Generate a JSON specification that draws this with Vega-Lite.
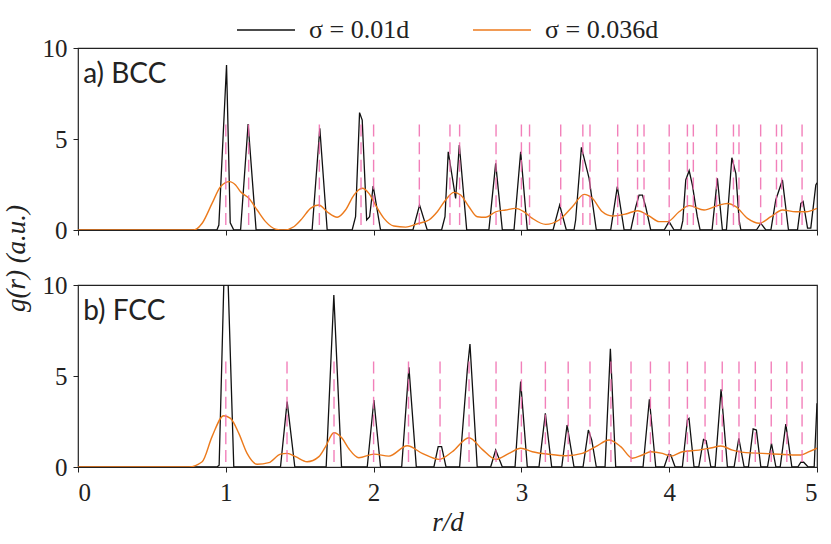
{
  "$schema": "https://vega.github.io/schema/vega-lite/v6.json",
  "background": "white",
  "padding": {"left": 1, "top": 0, "right": 5, "bottom": 5},
  "datasets": {
    "bcc": [
      {"r": 0, "g": 0}, {"r": 0.94, "g": 0}, {"r": 0.953, "g": 0.27}, {"r": 1.005, "g": 9.07}, {"r": 1.03, "g": 0.4}, {"r": 1.054, "g": 0},
      {"r": 1.10, "g": 0}, {"r": 1.151, "g": 5.82}, {"r": 1.205, "g": 0},
      {"r": 1.584, "g": 0}, {"r": 1.636, "g": 5.59}, {"r": 1.686, "g": 0},
      {"r": 1.855, "g": 0}, {"r": 1.878, "g": 0.73}, {"r": 1.905, "g": 6.45}, {"r": 1.923, "g": 6.04}, {"r": 1.953, "g": 0.55}, {"r": 1.973, "g": 0.73}, {"r": 1.997, "g": 2.42}, {"r": 2.047, "g": 0},
      {"r": 2.266, "g": 0}, {"r": 2.311, "g": 1.37}, {"r": 2.363, "g": 0},
      {"r": 2.46, "g": 0}, {"r": 2.483, "g": 0.73}, {"r": 2.505, "g": 4.3}, {"r": 2.555, "g": 1.74}, {"r": 2.58, "g": 4.67}, {"r": 2.63, "g": 0},
      {"r": 2.78, "g": 0}, {"r": 2.826, "g": 3.66}, {"r": 2.871, "g": 0},
      {"r": 2.95, "g": 0}, {"r": 2.995, "g": 4.3}, {"r": 3.04, "g": 0},
      {"r": 3.214, "g": 0}, {"r": 3.259, "g": 1.37}, {"r": 3.304, "g": 0},
      {"r": 3.356, "g": 0}, {"r": 3.367, "g": 0.55}, {"r": 3.406, "g": 4.54}, {"r": 3.458, "g": 2.84}, {"r": 3.507, "g": 0},
      {"r": 3.604, "g": 0}, {"r": 3.649, "g": 2.38}, {"r": 3.695, "g": 0},
      {"r": 3.74, "g": 0}, {"r": 3.774, "g": 1.28}, {"r": 3.796, "g": 1.92}, {"r": 3.819, "g": 1.92}, {"r": 3.841, "g": 1.28}, {"r": 3.875, "g": 0},
      {"r": 3.966, "g": 0}, {"r": 3.999, "g": 0.46}, {"r": 4.033, "g": 0},
      {"r": 4.078, "g": 0}, {"r": 4.092, "g": 0.5}, {"r": 4.112, "g": 2.75}, {"r": 4.135, "g": 3.26}, {"r": 4.157, "g": 2.47}, {"r": 4.19, "g": 0.73}, {"r": 4.209, "g": 0},
      {"r": 4.29, "g": 0}, {"r": 4.326, "g": 2.84}, {"r": 4.36, "g": 0},
      {"r": 4.387, "g": 0}, {"r": 4.424, "g": 3.97}, {"r": 4.451, "g": 3.1}, {"r": 4.473, "g": 0.55}, {"r": 4.485, "g": 0},
      {"r": 4.59, "g": 0}, {"r": 4.62, "g": 0.37}, {"r": 4.654, "g": 0},
      {"r": 4.688, "g": 0}, {"r": 4.721, "g": 1.65}, {"r": 4.766, "g": 2.75}, {"r": 4.807, "g": 0},
      {"r": 4.868, "g": 0}, {"r": 4.891, "g": 1.46}, {"r": 4.906, "g": 1.57}, {"r": 4.936, "g": 0.1}, {"r": 4.958, "g": 0.1}, {"r": 4.992, "g": 2.47}, {"r": 5.0, "g": 2.6}
    ],
    "bccWide": [
      {"r": 0, "g": 0}, {"r": 0.783, "g": 0}, {"r": 0.84, "g": 0.37}, {"r": 0.907, "g": 1.46}, {"r": 0.964, "g": 2.38}, {"r": 1.025, "g": 2.66},
      {"r": 1.066, "g": 2.47}, {"r": 1.1, "g": 2.1}, {"r": 1.156, "g": 1.74}, {"r": 1.212, "g": 1.1}, {"r": 1.269, "g": 0.46}, {"r": 1.336, "g": 0.05},
      {"r": 1.393, "g": 0.0}, {"r": 1.46, "g": 0.18}, {"r": 1.517, "g": 0.64}, {"r": 1.573, "g": 1.19}, {"r": 1.63, "g": 1.37}, {"r": 1.686, "g": 1.0},
      {"r": 1.754, "g": 0.7}, {"r": 1.81, "g": 1.1}, {"r": 1.867, "g": 1.92}, {"r": 1.923, "g": 2.29}, {"r": 1.968, "g": 2.01}, {"r": 2.013, "g": 1.37},
      {"r": 2.07, "g": 0.64}, {"r": 2.137, "g": 0.22}, {"r": 2.217, "g": 0.16}, {"r": 2.307, "g": 0.37}, {"r": 2.374, "g": 0.55}, {"r": 2.431, "g": 1.0},
      {"r": 2.487, "g": 1.65}, {"r": 2.544, "g": 2.07}, {"r": 2.589, "g": 1.92}, {"r": 2.645, "g": 1.28}, {"r": 2.702, "g": 0.73}, {"r": 2.758, "g": 0.7},
      {"r": 2.826, "g": 1.0}, {"r": 2.894, "g": 1.1}, {"r": 2.961, "g": 1.19}, {"r": 3.018, "g": 1.0}, {"r": 3.074, "g": 0.64}, {"r": 3.164, "g": 0.31},
      {"r": 3.255, "g": 0.55}, {"r": 3.345, "g": 1.28}, {"r": 3.424, "g": 1.96}, {"r": 3.48, "g": 1.74}, {"r": 3.548, "g": 1.0}, {"r": 3.615, "g": 0.77},
      {"r": 3.706, "g": 0.88}, {"r": 3.785, "g": 1.06}, {"r": 3.864, "g": 0.77}, {"r": 3.932, "g": 0.46}, {"r": 3.988, "g": 0.46}, {"r": 4.067, "g": 1.0},
      {"r": 4.135, "g": 1.34}, {"r": 4.236, "g": 1.1}, {"r": 4.326, "g": 1.34}, {"r": 4.394, "g": 1.46}, {"r": 4.451, "g": 1.28}, {"r": 4.53, "g": 0.64},
      {"r": 4.609, "g": 0.37}, {"r": 4.688, "g": 0.73}, {"r": 4.766, "g": 1.1}, {"r": 4.857, "g": 1.0}, {"r": 4.925, "g": 1.0}, {"r": 5.0, "g": 1.19}
    ],
    "fcc": [
      {"r": 0, "g": 0}, {"r": 0.94, "g": 0}, {"r": 0.955, "g": 0.1}, {"r": 1.0, "g": 14.3}, {"r": 1.054, "g": 0},
      {"r": 1.37, "g": 0}, {"r": 1.415, "g": 3.59}, {"r": 1.467, "g": 0},
      {"r": 1.679, "g": 0}, {"r": 1.731, "g": 9.45}, {"r": 1.783, "g": 0},
      {"r": 1.957, "g": 0}, {"r": 2.002, "g": 3.68}, {"r": 2.047, "g": 0},
      {"r": 2.19, "g": 0}, {"r": 2.239, "g": 5.48}, {"r": 2.289, "g": 0},
      {"r": 2.408, "g": 0}, {"r": 2.437, "g": 1.12}, {"r": 2.46, "g": 1.12}, {"r": 2.49, "g": 0},
      {"r": 2.582, "g": 0}, {"r": 2.634, "g": 5.33}, {"r": 2.652, "g": 6.76}, {"r": 2.701, "g": 0},
      {"r": 2.792, "g": 0}, {"r": 2.826, "g": 0.93}, {"r": 2.871, "g": 0},
      {"r": 2.957, "g": 0}, {"r": 2.995, "g": 4.69}, {"r": 3.04, "g": 0},
      {"r": 3.119, "g": 0}, {"r": 3.162, "g": 2.95}, {"r": 3.205, "g": 0},
      {"r": 3.273, "g": 0}, {"r": 3.309, "g": 2.31}, {"r": 3.356, "g": 0},
      {"r": 3.417, "g": 0}, {"r": 3.453, "g": 2.03}, {"r": 3.476, "g": 1.48}, {"r": 3.507, "g": 0},
      {"r": 3.566, "g": 0}, {"r": 3.602, "g": 6.5}, {"r": 3.638, "g": 0},
      {"r": 3.823, "g": 0}, {"r": 3.866, "g": 3.72}, {"r": 3.909, "g": 0},
      {"r": 3.966, "g": 0}, {"r": 3.995, "g": 0.7}, {"r": 4.011, "g": 0.66}, {"r": 4.04, "g": 0},
      {"r": 4.089, "g": 0}, {"r": 4.123, "g": 2.58}, {"r": 4.134, "g": 2.67}, {"r": 4.168, "g": 0},
      {"r": 4.2, "g": 0}, {"r": 4.232, "g": 1.52}, {"r": 4.25, "g": 1.45}, {"r": 4.282, "g": 0},
      {"r": 4.311, "g": 0}, {"r": 4.351, "g": 4.27}, {"r": 4.394, "g": 0},
      {"r": 4.439, "g": 0}, {"r": 4.471, "g": 1.58}, {"r": 4.507, "g": 0},
      {"r": 4.536, "g": 0}, {"r": 4.568, "g": 2.09}, {"r": 4.59, "g": 2.03}, {"r": 4.62, "g": 0},
      {"r": 4.665, "g": 0}, {"r": 4.692, "g": 1.3}, {"r": 4.722, "g": 0},
      {"r": 4.751, "g": 0}, {"r": 4.789, "g": 2.36}, {"r": 4.83, "g": 0},
      {"r": 4.87, "g": 0}, {"r": 4.891, "g": 0.26}, {"r": 4.91, "g": 0.26}, {"r": 4.94, "g": 0},
      {"r": 4.981, "g": 0}, {"r": 5.0, "g": 3.5}
    ],
    "fccWide": [
      {"r": 0, "g": 0}, {"r": 0.75, "g": 0}, {"r": 0.84, "g": 0.29}, {"r": 0.907, "g": 1.67}, {"r": 0.986, "g": 2.82}, {"r": 1.032, "g": 2.67},
      {"r": 1.088, "g": 1.85}, {"r": 1.144, "g": 0.75}, {"r": 1.212, "g": 0.15}, {"r": 1.291, "g": 0.24}, {"r": 1.37, "g": 0.71}, {"r": 1.415, "g": 0.75},
      {"r": 1.472, "g": 0.57}, {"r": 1.55, "g": 0.29}, {"r": 1.63, "g": 0.57}, {"r": 1.675, "g": 1.12}, {"r": 1.731, "g": 1.88}, {"r": 1.787, "g": 1.58},
      {"r": 1.833, "g": 1.0}, {"r": 1.9, "g": 0.51}, {"r": 2.002, "g": 0.71}, {"r": 2.104, "g": 0.6}, {"r": 2.228, "g": 1.17}, {"r": 2.329, "g": 0.75},
      {"r": 2.442, "g": 0.42}, {"r": 2.532, "g": 0.84}, {"r": 2.645, "g": 1.61}, {"r": 2.735, "g": 0.97}, {"r": 2.826, "g": 0.42}, {"r": 2.916, "g": 0.75},
      {"r": 2.995, "g": 1.03}, {"r": 3.074, "g": 0.84}, {"r": 3.187, "g": 0.7}, {"r": 3.3, "g": 0.62}, {"r": 3.412, "g": 0.75}, {"r": 3.503, "g": 1.12},
      {"r": 3.593, "g": 1.48}, {"r": 3.672, "g": 1.12}, {"r": 3.751, "g": 0.48}, {"r": 3.818, "g": 0.66}, {"r": 3.875, "g": 0.84}, {"r": 3.954, "g": 0.75},
      {"r": 4.011, "g": 0.6}, {"r": 4.089, "g": 0.84}, {"r": 4.2, "g": 0.93}, {"r": 4.29, "g": 1.06}, {"r": 4.349, "g": 1.15}, {"r": 4.428, "g": 0.93},
      {"r": 4.519, "g": 0.79}, {"r": 4.631, "g": 0.75}, {"r": 4.744, "g": 0.7}, {"r": 4.834, "g": 0.66}, {"r": 4.891, "g": 0.66}, {"r": 4.947, "g": 0.84},
      {"r": 5.0, "g": 1.03}
    ],
    "bccShells": [
      {"r": 1}, {"r": 1.1547}, {"r": 1.633}, {"r": 1.9149}, {"r": 2}, {"r": 2.3094}, {"r": 2.5166}, {"r": 2.582}, {"r": 2.8284},
      {"r": 3}, {"r": 3.0551}, {"r": 3.266}, {"r": 3.4157}, {"r": 3.4641}, {"r": 3.6515}, {"r": 3.7859}, {"r": 3.8297}, {"r": 4},
      {"r": 4.1231}, {"r": 4.1633}, {"r": 4.3205}, {"r": 4.4347}, {"r": 4.4721}, {"r": 4.6188}, {"r": 4.7258}, {"r": 4.761}, {"r": 4.899}
    ],
    "fccShells": [
      {"r": 1}, {"r": 1.4142}, {"r": 1.7321}, {"r": 2}, {"r": 2.2361}, {"r": 2.4495}, {"r": 2.6458}, {"r": 2.8284}, {"r": 3},
      {"r": 3.1623}, {"r": 3.3166}, {"r": 3.4641}, {"r": 3.6056}, {"r": 3.7417}, {"r": 3.873}, {"r": 4}, {"r": 4.1231}, {"r": 4.2426},
      {"r": 4.3589}, {"r": 4.4721}, {"r": 4.5826}, {"r": 4.6904}, {"r": 4.7958}, {"r": 4.899}
    ],
    "bccLabel": [{"label": "a) BCC"}],
    "fccLabel": [{"label": "b) FCC"}]
  },
  "bounds": "flush",
  "spacing": 55,
  "vconcat": [
    {
      "width": 739,
      "height": 182,
      "layer": [
        {
          "data": {"name": "bcc"},
          "transform": [{"calculate": "'σ = 0.01d'", "as": "sigma"}],
          "mark": {"type": "line", "strokeWidth": 1.3, "clip": true},
          "encoding": {
            "x": {"field": "r", "type": "quantitative", "scale": {"domain": [0, 5]},
                  "axis": {"values": [0, 1, 2, 3, 4, 5], "labels": false, "title": null}},
            "y": {"field": "g", "type": "quantitative", "scale": {"domain": [0, 10]},
                  "axis": {"values": [0, 5, 10], "title": "g(r) (a.u.)", "titleY": 210, "titleX": -48}},
            "color": {"field": "sigma", "type": "nominal"}
          }
        },
        {
          "data": {"name": "bccWide"},
          "transform": [{"calculate": "'σ = 0.036d'", "as": "sigma"}],
          "mark": {"type": "line", "strokeWidth": 1.4, "interpolate": "monotone", "clip": true},
          "encoding": {
            "x": {"field": "r", "type": "quantitative"},
            "y": {"field": "g", "type": "quantitative"},
            "color": {"field": "sigma", "type": "nominal"}
          }
        },
        {
          "data": {"name": "bccShells"},
          "mark": {"type": "rule", "color": "#f06aae", "opacity": 0.85, "strokeWidth": 1.4, "strokeDash": [12, 5.7]},
          "encoding": {
            "x": {"field": "r", "type": "quantitative"},
            "y": {"datum": 5.8},
            "y2": {"datum": 0}
          }
        },
        {
          "data": {"name": "bccLabel"},
          "mark": {"type": "text", "align": "left", "baseline": "middle", "font": "Lato", "fontSize": 28, "color": "#222"},
          "encoding": {
            "x": {"datum": 0.035},
            "y": {"datum": 8.5},
            "text": {"field": "label"}
          }
        }
      ]
    },
    {
      "width": 739,
      "height": 182,
      "layer": [
        {
          "data": {"name": "fcc"},
          "transform": [{"calculate": "'σ = 0.01d'", "as": "sigma"}],
          "mark": {"type": "line", "strokeWidth": 1.3, "clip": true},
          "encoding": {
            "x": {"field": "r", "type": "quantitative", "scale": {"domain": [0, 5]},
                  "axis": {"values": [0, 1, 2, 3, 4, 5], "format": "d", "title": "r/d"}},
            "y": {"field": "g", "type": "quantitative", "scale": {"domain": [0, 10]},
                  "axis": {"values": [0, 5, 10], "title": null}},
            "color": {"field": "sigma", "type": "nominal"}
          }
        },
        {
          "data": {"name": "fccWide"},
          "transform": [{"calculate": "'σ = 0.036d'", "as": "sigma"}],
          "mark": {"type": "line", "strokeWidth": 1.4, "interpolate": "monotone", "clip": true},
          "encoding": {
            "x": {"field": "r", "type": "quantitative"},
            "y": {"field": "g", "type": "quantitative"},
            "color": {"field": "sigma", "type": "nominal"}
          }
        },
        {
          "data": {"name": "fccShells"},
          "mark": {"type": "rule", "color": "#f06aae", "opacity": 0.85, "strokeWidth": 1.4, "strokeDash": [12, 5.7]},
          "encoding": {
            "x": {"field": "r", "type": "quantitative"},
            "y": {"datum": 5.8},
            "y2": {"datum": 0}
          }
        },
        {
          "data": {"name": "fccLabel"},
          "mark": {"type": "text", "align": "left", "baseline": "middle", "font": "Lato", "fontSize": 28, "color": "#222"},
          "encoding": {
            "x": {"datum": 0.035},
            "y": {"datum": 8.5},
            "text": {"field": "label"}
          }
        }
      ]
    }
  ],
  "resolve": {"scale": {"color": "shared"}},
  "config": {
    "view": {"stroke": "#222", "strokeWidth": 1.2},
    "range": {"category": ["#111111", "#ec7a1c"]},
    "axis": {
      "grid": false,
      "domain": false,
      "tickColor": "#222",
      "tickSize": 5,
      "tickWidth": 1,
      "labelFont": "Liberation Serif",
      "labelFontSize": 25,
      "labelColor": "#222",
      "labelPadding": 6,
      "titleFont": "Liberation Serif",
      "titleFontSize": 27,
      "titleFontWeight": "normal",
      "titleFontStyle": "italic",
      "titleColor": "#222"
    },
    "axisX": {"titlePadding": 4, "labelPadding": 8},
    "legend": {
      "orient": "none",
      "legendX": 158,
      "legendY": -48,
      "direction": "horizontal",
      "title": null,
      "symbolType": "stroke",
      "symbolSize": 3364,
      "symbolStrokeWidth": 1.5,
      "labelFont": "Liberation Serif",
      "labelFontSize": 26,
      "labelColor": "#222",
      "labelOffset": 13,
      "columnPadding": 60,
      "padding": 0
    }
  }
}
